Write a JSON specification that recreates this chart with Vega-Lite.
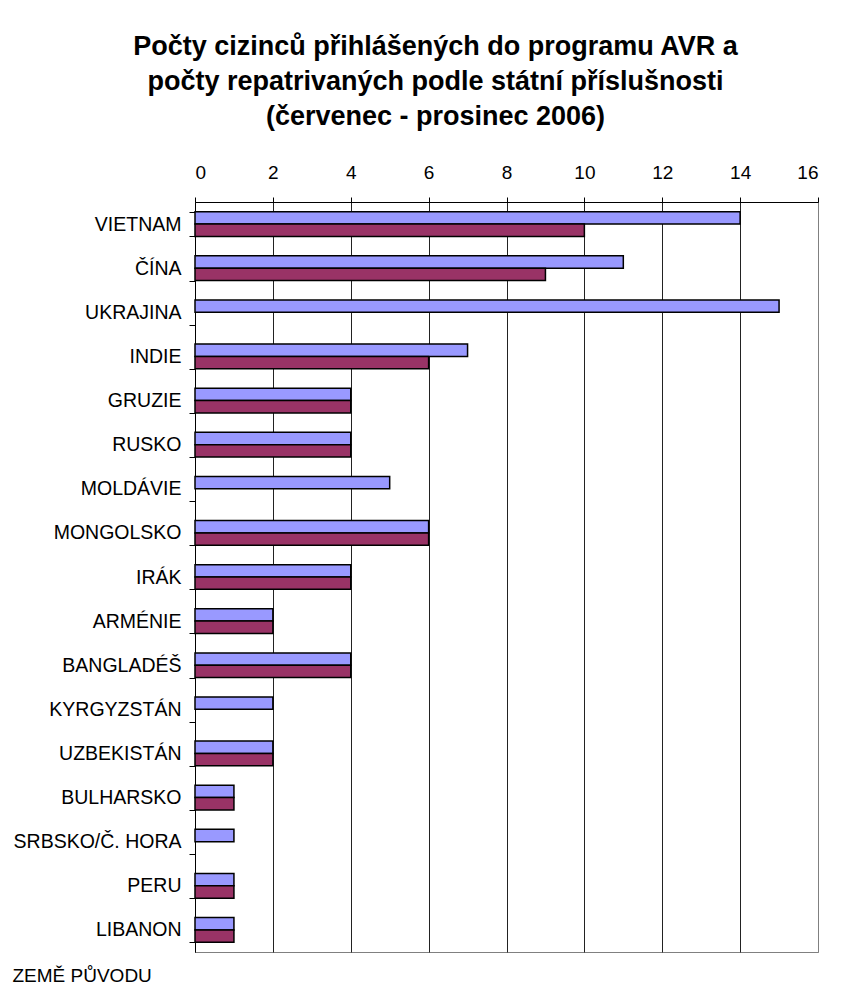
{
  "$schema": "https://vega.github.io/schema/vega-lite/v6.json",
  "autosize": {"type": "none"},
  "width": 623,
  "height": 750,
  "padding": {"left": 195, "top": 202, "right": 31, "bottom": 42},
  "background": "white",
  "title": {
    "text": ["Počty cizinců přihlášených do programu AVR a", "počty repatrivaných podle státní příslušnosti", "(červenec - prosinec 2006)"],
    "font": "Liberation Sans",
    "fontSize": 27,
    "fontWeight": "bold",
    "color": "black",
    "lineHeight": 35,
    "anchor": "middle",
    "dx": -71,
    "offset": 32
  },
  "data": {
    "values": [
      {"zeme": "VIETNAM", "serie": "přihlášení", "pocet": 14},
      {"zeme": "VIETNAM", "serie": "repatriovaní", "pocet": 10},
      {"zeme": "ČÍNA", "serie": "přihlášení", "pocet": 11},
      {"zeme": "ČÍNA", "serie": "repatriovaní", "pocet": 9},
      {"zeme": "UKRAJINA", "serie": "přihlášení", "pocet": 15},
      {"zeme": "INDIE", "serie": "přihlášení", "pocet": 7},
      {"zeme": "INDIE", "serie": "repatriovaní", "pocet": 6},
      {"zeme": "GRUZIE", "serie": "přihlášení", "pocet": 4},
      {"zeme": "GRUZIE", "serie": "repatriovaní", "pocet": 4},
      {"zeme": "RUSKO", "serie": "přihlášení", "pocet": 4},
      {"zeme": "RUSKO", "serie": "repatriovaní", "pocet": 4},
      {"zeme": "MOLDÁVIE", "serie": "přihlášení", "pocet": 5},
      {"zeme": "MONGOLSKO", "serie": "přihlášení", "pocet": 6},
      {"zeme": "MONGOLSKO", "serie": "repatriovaní", "pocet": 6},
      {"zeme": "IRÁK", "serie": "přihlášení", "pocet": 4},
      {"zeme": "IRÁK", "serie": "repatriovaní", "pocet": 4},
      {"zeme": "ARMÉNIE", "serie": "přihlášení", "pocet": 2},
      {"zeme": "ARMÉNIE", "serie": "repatriovaní", "pocet": 2},
      {"zeme": "BANGLADÉŠ", "serie": "přihlášení", "pocet": 4},
      {"zeme": "BANGLADÉŠ", "serie": "repatriovaní", "pocet": 4},
      {"zeme": "KYRGYZSTÁN", "serie": "přihlášení", "pocet": 2},
      {"zeme": "UZBEKISTÁN", "serie": "přihlášení", "pocet": 2},
      {"zeme": "UZBEKISTÁN", "serie": "repatriovaní", "pocet": 2},
      {"zeme": "BULHARSKO", "serie": "přihlášení", "pocet": 1},
      {"zeme": "BULHARSKO", "serie": "repatriovaní", "pocet": 1},
      {"zeme": "SRBSKO/Č. HORA", "serie": "přihlášení", "pocet": 1},
      {"zeme": "PERU", "serie": "přihlášení", "pocet": 1},
      {"zeme": "PERU", "serie": "repatriovaní", "pocet": 1},
      {"zeme": "LIBANON", "serie": "přihlášení", "pocet": 1},
      {"zeme": "LIBANON", "serie": "repatriovaní", "pocet": 1}
    ]
  },
  "mark": {"type": "bar", "stroke": "black", "strokeWidth": 1.5},
  "encoding": {
    "y": {
      "field": "zeme",
      "type": "nominal",
      "sort": null,
      "scale": {"paddingInner": 0.44, "paddingOuter": 0.22},
      "axis": {
        "title": "ZEMĚ PŮVODU",
        "titleAngle": 0,
        "titleX": -183,
        "titleY": 773,
        "titleAlign": "left",
        "titleBaseline": "middle",
        "titleFont": "Liberation Sans",
        "titleFontSize": 19,
        "titleFontWeight": "normal",
        "titleColor": "black",
        "labelFont": "Liberation Sans",
        "labelFontSize": 19.5,
        "labelColor": "black",
        "labelPadding": 8,
        "tickBand": "extent",
        "tickSize": 6,
        "tickColor": "black",
        "domainColor": "black",
        "grid": false
      }
    },
    "yOffset": {
      "field": "serie",
      "type": "nominal",
      "scale": {"domain": ["přihlášení", "repatriovaní"], "paddingInner": 0, "paddingOuter": 0}
    },
    "x": {
      "field": "pocet",
      "type": "quantitative",
      "scale": {"domain": [0, 16], "nice": false},
      "axis": {
        "orient": "top",
        "title": null,
        "values": [0, 2, 4, 6, 8, 10, 12, 14, 16],
        "labelFont": "Liberation Sans",
        "labelFontSize": 19,
        "labelColor": "black",
        "labelPadding": 15,
        "tickSize": 5,
        "tickColor": "black",
        "domainColor": "black",
        "grid": true,
        "gridColor": {"condition": {"test": "datum.value == 16", "value": "#808080"}, "value": "#222222"},
        "gridOpacity": 1
      }
    },
    "fill": {
      "field": "serie",
      "type": "nominal",
      "scale": {"domain": ["přihlášení", "repatriovaní"], "range": ["#9999FF", "#993366"]},
      "legend": null
    }
  },
  "config": {
    "view": {"stroke": "#808080"}
  }
}
